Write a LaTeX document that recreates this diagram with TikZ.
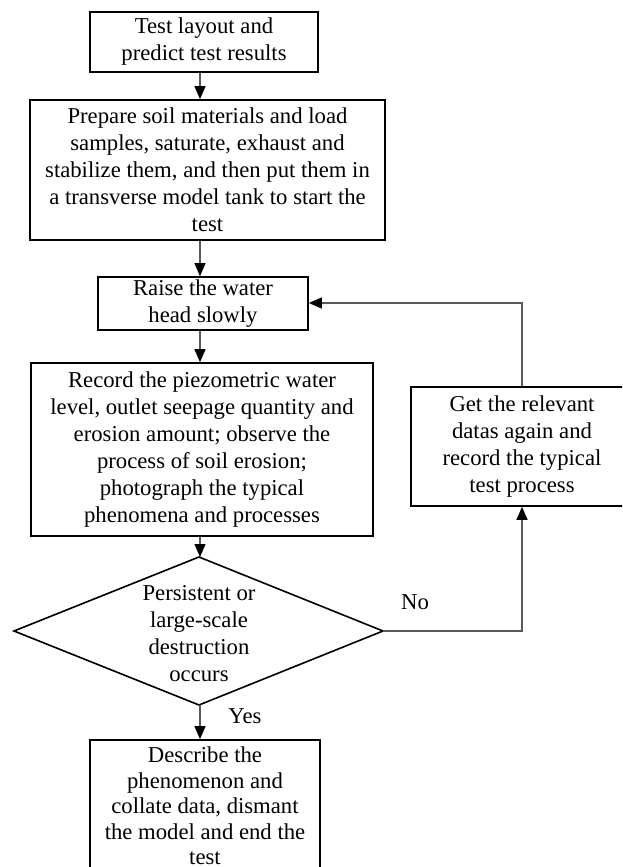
\documentclass[tikz,border=0pt]{standalone}
\usepackage{fontspec}
\setmainfont{Liberation Serif}
\usetikzlibrary{arrows.meta}
\begin{document}
\begin{tikzpicture}[x=1pt,y=-1pt,
  box/.style={draw=black,line width=1.6pt,align=center,font=\fontsize{22.7}{27}\selectfont,inner sep=0pt},
  txt/.style={align=center,font=\fontsize{22.7}{27}\selectfont,inner sep=0pt},
  conn/.style={draw=black!65,line width=1.3pt,-{Triangle[length=13pt,width=11pt,color=black]}},
  shapeline/.style={draw=black,line width=1.6pt}]
\useasboundingbox (0,0) rectangle (622,867);
\clip (0,0) rectangle (622,867);
\coordinate (axis) at (200,0);
% boxes
\node[box,minimum width=228pt,minimum height=60pt] (b1) at (204,42) {Test layout and\\predict test results};
\node[box,minimum width=355pt,minimum height=140pt] (b2) at (207.5,170) {Prepare soil materials and load\\samples, saturate, exhaust and\\stabilize them, and then put them in\\a transverse model tank to start the\\test};
\node[box,minimum width=210pt,minimum height=53pt] (b3) at (203,303.5) {Raise the water\\head slowly};
\node[box,minimum width=342pt,minimum height=173pt] (b4) at (202,449.5) {Record the piezometric water\\level, outlet seepage quantity and\\erosion amount; observe the\\process of soil erosion;\\photograph the typical\\phenomena and processes};
\node[box,minimum width=222pt,minimum height=119pt] (b5) at (522,446.5) {Get the relevant\\datas again and\\record the typical\\test process};
\node[box,minimum width=230pt,minimum height=140pt] (b6) at (205,810) {};
\node[txt,font=\fontsize{22.7}{25.5}\selectfont] (b6t) at (205,806) {Describe the\\phenomenon and\\collate data, dismant\\the model and end the\\test};
% decision diamond
\coordinate (dt) at (199,557);
\coordinate (dr) at (383,631);
\coordinate (db) at (199,705);
\coordinate (dl) at (14,631);
\draw[shapeline] (dt) -- (dr) -- (db) -- (dl) -- cycle;
\node[txt] (dq) at (199,634) {Persistent or\\large-scale\\destruction\\occurs};
% connectors
\draw[conn] (b1.south -| axis) -- (b2.north -| axis);
\draw[conn] (b2.south -| axis) -- (b3.north -| axis);
\draw[conn] (b3.south -| axis) -- (b4.north -| axis);
\draw[conn] (b4.south -| axis) -- (dt -| axis);
\draw[conn] (db -| axis) -- (b6.north -| axis);
\coordinate (rc) at (522,631);
\draw[conn] (dr) -- (rc) -- (b5.south);
\coordinate (tc) at (522,303);
\draw[conn] (b5.north) -- (tc) -- (b3.east |- tc);
% labels
\node[txt] (no) at (415,602) {No};
\node[txt] (yes) at (245,716) {Yes};
\end{tikzpicture}
\end{document}
